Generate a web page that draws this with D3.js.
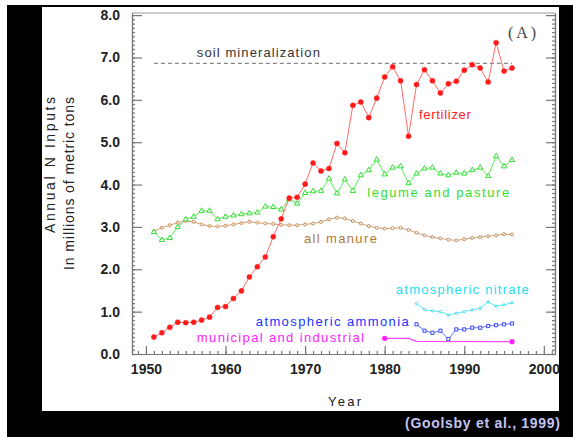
<!DOCTYPE html>
<html>
<head>
<meta charset="utf-8">
<script src="https://cdn.jsdelivr.net/npm/d3@7"></script>
<style>
  body { margin: 0; background: #fff; }
  svg { display: block; font-family: "Liberation Sans", Arial, sans-serif; }
</style>
</head>
<body>
<svg class="chart"></svg>
<script>
// data (millions of metric tons)
var fertYears = d3.range(1951, 1997);
var fertilizer = [0.40, 0.50, 0.63, 0.75, 0.74, 0.75, 0.80, 0.87, 1.10, 1.12,
                  1.31, 1.49, 1.82, 2.06, 2.29, 2.77, 3.19, 3.68, 3.70, 4.01,
                  4.51, 4.32, 4.38, 4.97, 4.75, 5.87, 5.95, 5.58, 6.04, 6.54,
                  6.78, 6.45, 5.14, 6.36, 6.71, 6.45, 6.16, 6.38, 6.44, 6.70,
                  6.83, 6.75, 6.42, 7.35, 6.68, 6.75];
var legume = [2.88, 2.69, 2.74, 3.00, 3.18, 3.24, 3.38, 3.38, 3.18, 3.24,
              3.27, 3.30, 3.32, 3.34, 3.48, 3.47, 3.41, 3.65, 3.55, 3.80,
              3.84, 3.85, 4.14, 3.79, 4.12, 3.85, 4.22, 4.34, 4.59, 4.24,
              4.40, 4.43, 4.03, 4.26, 4.38, 4.40, 4.26, 4.22, 4.28, 4.26,
              4.34, 4.40, 4.20, 4.67, 4.43, 4.58];
var manure = [2.90, 2.98, 3.04, 3.10, 3.14, 3.12, 3.06, 3.02, 3.01, 3.03,
              3.06, 3.09, 3.12, 3.10, 3.08, 3.07, 3.05, 3.04, 3.04, 3.06,
              3.08, 3.12, 3.18, 3.22, 3.20, 3.14, 3.08, 3.02, 2.98, 2.96,
              2.97, 2.98, 2.93, 2.86, 2.80, 2.76, 2.73, 2.70, 2.68, 2.71,
              2.74, 2.76, 2.78, 2.80, 2.83, 2.82];
var atmYears = d3.range(1984, 1997);
var nitrate = [1.19, 1.05, 1.02, 1.00, 0.92, 0.96, 1.00, 1.04, 1.08, 1.23, 1.13, 1.16, 1.21];
var ammonia = [0.70, 0.55, 0.50, 0.55, 0.35, 0.58, 0.58, 0.62, 0.62, 0.66, 0.68, 0.70, 0.72];
var muniYears = [1980, 1983, 1984, 1996];
var municipal = [0.37, 0.37, 0.30, 0.29];
var soilYears = [1951, 1996];
var soil = [6.86, 6.86];

var yTicks = [0, 1, 2, 3, 4, 5, 6, 7, 8];
var xTicks = [1950, 1960, 1970, 1980, 1990, 2000];

// sizes
var W = 573, H = 437;
var plot = {left: 132, right: 555, top: 13, bottom: 354};

var svg = d3.select("svg.chart")
    .attr("width", W)
    .attr("height", H);

// black frame with white panel
svg.append("rect").attr("x", 7).attr("y", 5).attr("width", W - 7).attr("height", H - 5).attr("fill", "#000");
svg.append("rect").attr("x", 42).attr("y", 7).attr("width", 517).attr("height", 404).attr("fill", "#fff");

var x = d3.scaleLinear().domain([1948.25, 2001.4]).range([plot.left, plot.right]);
var y = d3.scaleLinear().domain([0, 8.05]).range([plot.bottom, plot.top]);

//////////////
// axes
//////////////
var axisColor = "#777";

function styleAxis(g) {
    g.selectAll("path, line").attr("stroke", axisColor).attr("stroke-width", 1.2);
    g.selectAll("text")
	.attr("fill", "#222")
	.attr("font-size", 14)
	.attr("font-weight", "bold")
	.attr("font-family", "'Liberation Sans', Arial, sans-serif");
}

// top and right frame
svg.append("line")
    .attr("x1", plot.left).attr("x2", plot.right)
    .attr("y1", plot.top).attr("y2", plot.top)
    .attr("stroke", "#bbb").attr("stroke-width", 1.5);

svg.append("g")
    .attr("transform", "translate(" + plot.right + ",0)")
    .call(d3.axisRight(y).tickValues(yTicks).tickSize(-9).tickSizeOuter(0).tickFormat(""))
    .call(styleAxis);
svg.append("g")
    .attr("transform", "translate(" + plot.right + ",0)")
    .call(d3.axisRight(y).tickValues(d3.range(0, 80).map(function(d) { return d / 10; })).tickSize(-3).tickSizeOuter(0).tickFormat(""))
    .call(styleAxis);

// left axis
svg.append("g")
    .attr("transform", "translate(" + plot.left + ",0)")
    .call(d3.axisLeft(y).tickValues(d3.range(0, 80).map(function(d) { return d / 10; })).tickSize(-3).tickSizeOuter(0).tickFormat(""))
    .call(styleAxis);
svg.append("g")
    .attr("transform", "translate(" + plot.left + ",0)")
    .call(d3.axisLeft(y).tickValues(yTicks).tickSize(-10).tickSizeOuter(0).tickPadding(12).tickFormat(d3.format(".1f")))
    .call(styleAxis);

// bottom axis
svg.append("g")
    .attr("transform", "translate(0," + plot.bottom + ")")
    .call(d3.axisBottom(x).tickValues(d3.range(1949, 2002)).tickSize(-3).tickSizeOuter(0).tickFormat(""))
    .call(styleAxis);
svg.append("g")
    .attr("transform", "translate(0," + plot.bottom + ")")
    .call(d3.axisBottom(x).tickValues(xTicks).tickSize(-8).tickSizeOuter(0).tickPadding(10).tickFormat(d3.format("d")))
    .call(styleAxis);

// axis titles
svg.append("text")
    .attr("transform", "translate(55,97) rotate(-90)")
    .attr("text-anchor", "end")
    .attr("font-size", 14).attr("fill", "#222")
    .attr("textLength", 136).attr("lengthAdjust", "spacing")
    .text("Annual N Inputs");
svg.append("text")
    .attr("transform", "translate(74,97) rotate(-90)")
    .attr("text-anchor", "end")
    .attr("font-size", 14).attr("fill", "#222")
    .attr("textLength", 173).attr("lengthAdjust", "spacing")
    .text("In millions of metric tons");
svg.append("text")
    .attr("x", 328).attr("y", 406)
    .attr("font-size", 13).attr("fill", "#222")
    .attr("textLength", 33).attr("lengthAdjust", "spacing")
    .text("Year");

svg.append("text")
    .attr("x", 508).attr("y", 38)
    .attr("font-size", 16).attr("fill", "#444")
    .attr("font-family", "'Liberation Serif', 'DejaVu Serif', serif")
    .attr("textLength", 28).attr("lengthAdjust", "spacing")
    .text("(A)");

//////////////
// series
//////////////
function pts(years, vals) {
    return years.map(function(yr, i) { return {year: yr, v: vals[i]}; });
}

var line = d3.line()
    .x(function(d) { return x(d.year); })
    .y(function(d) { return y(d.v); });

// soil mineralization (dashed)
svg.append("path")
    .datum(pts(soilYears, soil))
    .attr("d", line)
    .attr("fill", "none")
    .attr("stroke", "#888")
    .attr("stroke-width", 1.2)
    .attr("stroke-dasharray", "4,3");

function drawSeries(data, color, lineColor, symbol, size, filled) {
    var g = svg.append("g");
    g.append("path")
	.datum(data)
	.attr("d", line)
	.attr("fill", "none")
	.attr("stroke", lineColor)
	.attr("stroke-width", 1);
    g.selectAll("path.mark")
	.data(data)
      .enter().append("path")
	.attr("class", "mark")
	.attr("transform", function(d) { return "translate(" + x(d.year) + "," + y(d.v) + ")"; })
	.attr("d", d3.symbol().type(symbol).size(size))
	.attr("fill", filled ? color : "#fff")
	.attr("stroke", color)
	.attr("stroke-width", filled ? 0.5 : 1);
    return g;
}

drawSeries(pts(fertYears, manure), "#c48a52", "#d4a070", d3.symbolCircle, 7, false);
drawSeries(pts(fertYears, legume), "#33dd33", "#55ee55", d3.symbolTriangle, 12, false);
drawSeries(pts(atmYears, nitrate), "#22e0f0", "#55eef8", d3.symbolCircle, 4, false);
drawSeries(pts(atmYears, ammonia), "#3344ff", "#6677ff", d3.symbolSquare, 10, false);
drawSeries(pts(fertYears, fertilizer), "#ff1a1a", "#ff6a6a", d3.symbolCircle, 20, true);

// municipal: markers only at both ends
var muni = pts(muniYears, municipal);
svg.append("path")
    .datum(muni)
    .attr("d", line)
    .attr("fill", "none")
    .attr("stroke", "#ff44ff")
    .attr("stroke-width", 1.2);
svg.selectAll("circle.muni")
    .data([muni[0], muni[muni.length - 1]])
  .enter().append("circle")
    .attr("class", "muni")
    .attr("cx", function(d) { return x(d.year); })
    .attr("cy", function(d) { return y(d.v); })
    .attr("r", 2.6)
    .attr("fill", "#ff22ff");

//////////////
// series labels
//////////////
var labels = [
    {t: "soil mineralization", yr: 1956.4, v: 7.0, w: 123, c: "#333"},
    {t: "fertilizer", yr: 1984.3, v: 5.55, w: 52, c: "#ff2222"},
    {t: "legume and pasture", yr: 1977.8, v: 3.70, w: 142, c: "#33dd33"},
    {t: "all manure", yr: 1969.85, v: 2.62, w: 73, c: "#b07838"},
    {t: "atmospheric nitrate", yr: 1981.4, v: 1.42, w: 133, c: "#22e0f0"},
    {t: "atmospheric ammonia", yr: 1963.8, v: 0.66, w: 153, c: "#2233ff"},
    {t: "municipal and industrial", yr: 1956.4, v: 0.28, w: 167, c: "#ff22ff"}
];
svg.selectAll("text.lbl")
    .data(labels)
  .enter().append("text")
    .attr("class", "lbl")
    .attr("x", function(d) { return x(d.yr); })
    .attr("y", function(d) { return y(d.v); })
    .attr("font-size", 13)
    .attr("fill", function(d) { return d.c; })
    .attr("textLength", function(d) { return d.w; })
    .attr("lengthAdjust", "spacing")
    .text(function(d) { return d.t; });

// source
svg.append("text")
    .attr("x", 560).attr("y", 428)
    .attr("text-anchor", "end")
    .attr("font-size", 14).attr("font-weight", "bold")
    .attr("fill", "#c4c4f4")
    .attr("textLength", 155).attr("lengthAdjust", "spacing")
    .text("(Goolsby et al., 1999)");
</script>
</body>
</html>
